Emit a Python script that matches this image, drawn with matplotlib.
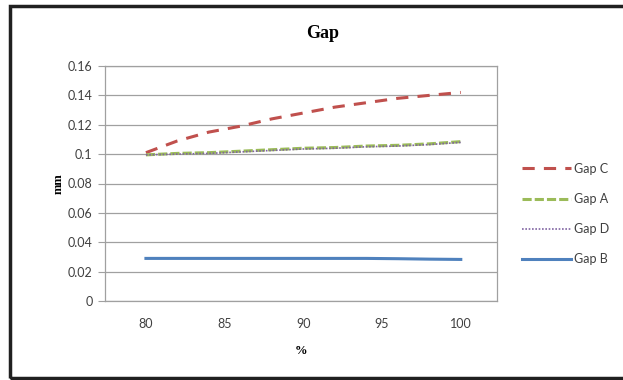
import matplotlib.pyplot as plt
from matplotlib.patches import Rectangle

pct = [80, 82, 84, 86, 88, 90, 92, 94, 96, 98, 100]
gap_c = [0.101, 0.109, 0.115, 0.119, 0.124, 0.128, 0.132, 0.135, 0.138, 0.140, 0.142]
gap_a = [0.0995, 0.1005, 0.101, 0.102, 0.103, 0.104, 0.1045, 0.1055, 0.106, 0.107, 0.1085]
gap_d = [0.0995, 0.100, 0.1005, 0.1015, 0.1025, 0.1035, 0.104, 0.105, 0.1055, 0.1065, 0.108]
gap_b = [0.029, 0.029, 0.029, 0.029, 0.029, 0.029, 0.029, 0.029, 0.0288, 0.0285, 0.0283]

yticks = [0, 0.02, 0.04, 0.06, 0.08, 0.1, 0.12, 0.14, 0.16]
ylabels = ['0', '0.02', '0.04', '0.06', '0.08', '0.1', '0.12', '0.14', '0.16']
xticks = [80, 85, 90, 95, 100]

sans = ['Lato', 'DejaVu Sans']
serif = ['Liberation Serif', 'DejaVu Serif']

fig = plt.figure(figsize=(6.23, 3.8), dpi=100)
ax = fig.add_axes([105 / 623, 1 - 301 / 380, 392 / 623, 235 / 380])

ax.plot(pct, gap_c, color='#c0504d', lw=2.2, dashes=(4, 3), label='Gap C')
ax.plot(pct, gap_a, color='#9bbb59', lw=2.2, dashes=(3, 1), label='Gap A')
ax.plot(pct, gap_d, color='#8064a2', lw=1.2, dashes=(1, 1), label='Gap D')
ax.plot(pct, gap_b, color='#4f81bd', lw=2.2, label='Gap B')

ax.set_xlim(77.4, 102.3)
ax.set_ylim(0, 0.16)
ax.set_yticks(yticks)
ax.set_yticklabels(ylabels, family=sans, fontsize=9, color='#404040')
ax.set_xticks(xticks)
ax.set_xticklabels([str(v) for v in xticks], family=sans, fontsize=9, color='#404040')
ax.grid(axis='y', color='#a0a0a0', lw=0.9)
ax.set_axisbelow(True)
for s in ax.spines.values():
    s.set_color('#a0a0a0')
    s.set_linewidth(0.9)
ax.tick_params(axis='y', length=5, color='#a0a0a0', pad=4)
ax.tick_params(axis='x', length=0, pad=12)

fig.text(323 / 623, 1 - 33 / 380, 'Gap', family=serif, fontweight='bold',
         fontsize=13, ha='center', va='center')
ax.set_xlabel('%', family=serif, fontweight='bold', fontsize=9, labelpad=11)
ax.set_ylabel('mm', family=serif, fontweight='bold', fontsize=9, labelpad=2)

ax.legend(loc='center left', bbox_to_anchor=(1.035, 0.37), frameon=False,
          prop={'family': sans, 'size': 9}, labelcolor='#404040',
          handlelength=3.9, handletextpad=0.3, labelspacing=1.45)

fig.patches.append(Rectangle((10 / 623, 2 / 380), 640 / 623, 372 / 380,
                             transform=fig.transFigure, fill=False,
                             edgecolor='#202020', lw=2.5))

fig.savefig('out.png', dpi=100)
